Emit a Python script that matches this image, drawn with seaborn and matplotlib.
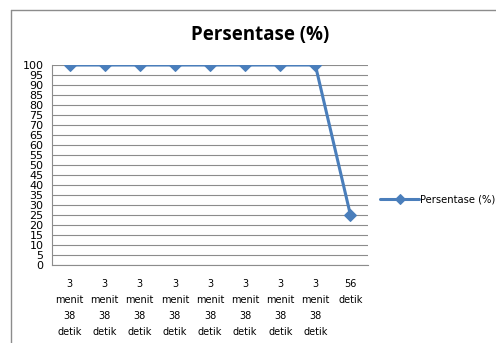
import pandas as pd
from matplotlib import pyplot as plt
from matplotlib.lines import Line2D
import seaborn as sns
import numpy as np

sns.set_style('white')
plt.rcParams['font.family'] = ['DejaVu Sans']
plt.rcParams['text.color'] = 'black'
plt.rcParams['xtick.color'] = 'black'
plt.rcParams['ytick.color'] = 'black'

# data
waktu = ['3\nmenit\n38\ndetik'] * 8 + ['56\ndetik']
persentase = [100, 100, 100, 100, 100, 100, 100, 100, 25]
urutan = list(range(len(waktu)))

df = pd.DataFrame({'urutan': urutan, 'persentase': persentase})

fig = plt.figure(figsize=(4.96, 3.43), dpi=100)
ax = fig.add_axes([52/496, 1 - 265/343, 316/496, 200/343])

biru = '#4A7EBB'
sns.lineplot(data=df, x='urutan', y='persentase', ax=ax, color=biru,
             linewidth=2.2, marker='D', markersize=6, markeredgecolor=biru,
             sort=False, label='Persentase (%)')

ax.set_xlim(-0.5, len(waktu) - 0.5)
ax.set_ylim(0, 100)
ax.set_yticks(np.arange(0, 101, 5))
ax.grid(axis='y', color='#8c8c8c', linewidth=0.8)
ax.set_axisbelow(True)

ax.set_xticks(urutan)
ax.set_xticklabels(waktu, fontsize=7, linespacing=1.75)
ax.set_xticks(np.arange(-0.5, len(waktu), 1), minor=True)
ax.tick_params(axis='x', which='major', length=0, pad=10, colors='black')
ax.tick_params(axis='x', which='minor', length=4, color='#8c8c8c', width=0.8)
ax.tick_params(axis='y', length=4, color='#8c8c8c', width=0.8, labelsize=8, pad=2, labelcolor='black')

for s in ['top', 'right']:
    ax.spines[s].set_visible(False)
for s in ['left', 'bottom']:
    ax.spines[s].set_color('#8c8c8c')
    ax.spines[s].set_linewidth(0.8)

ax.set_xlabel('')
ax.set_ylabel('')

fig.text(260/496, 1 - 35/343, 'Persentase (%)', ha='center', va='center',
         fontsize=13.5, fontweight='bold', family='Open Sans', color='black')

leg = ax.legend(loc='center left', frameon=False, fontsize=7.2, handlelength=3.9,
                handletextpad=0.15, borderaxespad=0, borderpad=0, markerscale=0.8)
leg.set_bbox_to_anchor((380/496, 1 - 199/343), transform=fig.transFigure)

# cell border of the sheet
fig.add_artist(Line2D([11/496, 11/496], [0, 1 - 10/343], transform=fig.transFigure, color='#8c8c8c', lw=1))
fig.add_artist(Line2D([11/496, 1], [1 - 10/343, 1 - 10/343], transform=fig.transFigure, color='#8c8c8c', lw=1))

fig.savefig('out.png', dpi=100)
